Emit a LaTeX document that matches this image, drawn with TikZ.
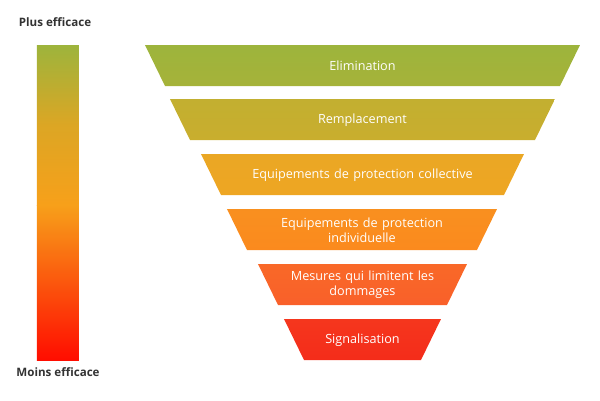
\documentclass[tikz,border=0pt]{standalone}
\usepackage{fontspec}
\setmainfont{Open Sans}
\definecolor{cGreen}{HTML}{9DB43C}
\definecolor{cOlive}{HTML}{C9AE2E}
\definecolor{cAmber}{HTML}{EEA623}
\definecolor{cOrange}{HTML}{FB8A1E}
\definecolor{cCoral}{HTML}{F9602A}
\definecolor{cRed}{HTML}{F42C1A}
\definecolor{cMid}{HTML}{F7A01A}
\definecolor{cText}{HTML}{333333}
\tikzset{
  level/.style={draw=none},
  lvltext/.style={text=white, align=center, font=\fontsize{7.2}{8.6}\selectfont, text width=4.6cm},
  side/.style={text=cText, font=\fontsize{6.6}{8}\selectfont\bfseries}
}
\begin{document}
\begin{tikzpicture}[x=0.02cm,y=-0.02cm]
\useasboundingbox (0,0) rectangle (600,400);
% échelle d'efficacité
\shade[top color=cGreen, bottom color=cMid, middle color=cMid!70!cGreen] (37,45) rectangle (79,205);
\shade[top color=cMid, bottom color=red!90!orange] (37,205) rectangle (79,360);
\node[side] (plus) at (55,22) {Plus efficace};
\node[side] (moins) at (58,372) {Moins efficace};
% niveaux de la pyramide
\foreach \ya/\xa/\xb/\ca/\cb/\txt [count=\i] in {
  45/145/580/cGreen/cGreen!80!cOlive/Elimination,
  99/170/555/cOlive!85!cGreen/cOlive/Remplacement,
  154/201/524/cAmber!90!cOlive/cAmber/Equipements de protection collective,
  209/227/497/cOrange!80!cAmber/cOrange/{Equipements de protection\\individuelle},
  264/258/467/cCoral!80!cOrange/cCoral/{Mesures qui limitent les\\dommages},
  319/284/441/cRed!80!cCoral/cRed/Signalisation}{
  \shade[level, top color=\ca, bottom color=\cb]
    (\xa,\ya) -- (\xb,\ya) -- (\xb-20,\ya+41) -- (\xa+20,\ya+41) -- cycle;
  \node[lvltext] (lvl\i) at ({(\xa+\xb)/2},\ya+21) {\txt};
}
\end{tikzpicture}
\end{document}
